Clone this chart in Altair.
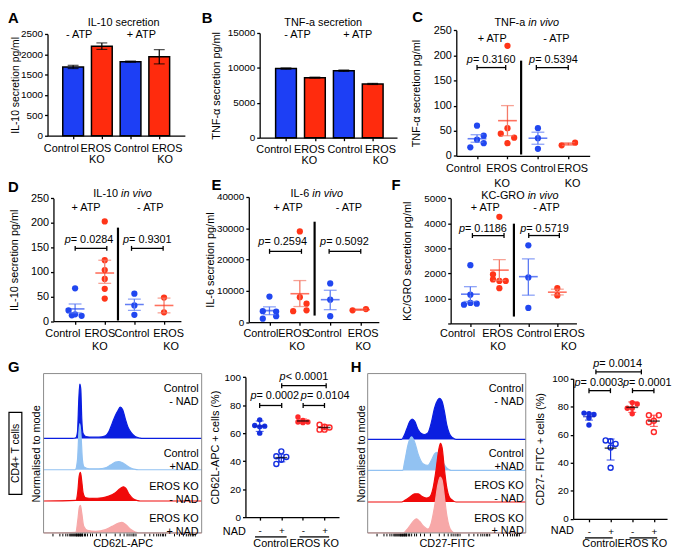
import math
import altair as alt
import pandas as pd

FONT = "Liberation Sans"
W, H = 672, 544

# ---------------- data ----------------
bar_groups = ["Control", "EROS KO", "Control", "EROS KO"]
il10_mean = [1690, 2200, 1820, 1940]
il10_err = [40, 80, 15, 175]
tnf_mean = [9900, 8600, 9600, 7700]
tnf_err = [100, 80, 100, 80]

vivo_groups = ["Control +ATP", "EROS KO +ATP", "Control -ATP", "EROS KO -ATP"]
tnfv_vals = [[60, 40, 32, 25, 17], [219, 55, 44, 36, 25], [55, 35, 14], [21, 26]]
tnfv_slot = [[0, 1, 0, 1, -1], [0, 0, -1, 1, 0], [0, 0, 0], [-1, 1]]
tnfv_mean = [34, 70, 35, 23.5]
tnfv_lo = [27, 40, 23, 21]
tnfv_hi = [42, 100, 47, 26]

il10v_vals = [[67, 22, 12, 14, 11], [203, 124, 104, 86, 66, 46], [56, 32, 13], [48, 18]]
il10v_slot = [[0, -1, -0.5, 0, 1], [0, 0, 0, 0, 0, 0], [0, 0, 0], [0, 0]]
il10v_mean = [25, 98, 34, 32]
il10v_lo = [17, 77, 22, 17]
il10v_hi = [35, 124, 45, 47]

il6v_vals = [[8200, 3500, 3400, 1900, 1100], [29000, 8000, 5900, 3800, 3500], [12400, 7200, 1900], [3800, 4200]]
il6v_slot = [[0, -1, 1, 1, -1], [0, 0, 1, 1, -1], [0, 0, 0], [-1.2, 0.8]]
il6v_mean = [3700, 9100, 7200, 4000]
il6v_lo = [2400, 5000, 4000, 3800]
il6v_hi = [4900, 13300, 10200, 4200]

kcv_vals = [[2330, 1150, 750, 820, 790], [4260, 1960, 1760, 1700, 1700, 1410], [3120, 1840, 620], [1410, 1120]]
kcv_slot = [[0, 0, -1, 0, 1], [0, -1, -1, 0, 1, 0], [0, 0, 0], [0, 0]]
kcv_mean = [1170, 2130, 1870, 1250]
kcv_lo = [880, 1720, 1130, 1140]
kcv_hi = [1470, 2550, 2580, 1370]

nad_groups = ["Control -NAD", "Control +NAD", "EROS KO -NAD", "EROS KO +NAD"]
cd62_vals = [[69.5, 65.5, 65, 64.5, 60], [47, 43.5, 43, 41, 38], [71.5, 69, 68, 68, 67.5], [66, 64.5, 64, 62.5, 62.5]]
cd62_slot = [[0, -1, 1, 0, 0], [0, -1, 1, 0, -1], [-1, 0, -1, 1, 0], [-1, 0, 1, -1, 0]]
cd62_mean = [65, 42.5, 68.7, 64]
cd62_lo = [61.2, 39.5, 67.1, 62.4]
cd62_hi = [68.7, 44.7, 70.1, 65.9]

cd27_vals = [[75.5, 75, 74.5, 72, 67], [56, 55.5, 53.5, 51, 36.5], [83, 82, 79, 79, 75], [74, 74, 70, 69, 62]]
cd27_slot = [[-1, 0, 1, 0, 0], [-1, 0, 1, 0, 0], [0, 1, -1, 0, 0], [-1, 1, 0, -1, 0]]
cd27_mean = [73, 50.5, 79.6, 69.8]
cd27_lo = [70.5, 42, 76, 66]
cd27_hi = [75.5, 57, 83.5, 74]

hist_rows = [["Control", "- NAD"], ["Control", "+NAD"], ["EROS KO", "- NAD"], ["EROS KO", "+ NAD"]]
cd62l_x = [
    [0, 88, 98, 103, 107, 110, 113, 116, 120, 128, 148, 168, 188, 198, 208, 218, 226, 233, 240, 248, 256, 266, 278, 293, 303, 480],
    [0, 96, 103, 107, 110, 114, 118, 123, 138, 168, 188, 203, 218, 228, 238, 250, 263, 278, 288, 480],
    [0, 98, 104, 108, 112, 116, 120, 128, 148, 178, 198, 218, 233, 243, 250, 260, 273, 286, 293, 480],
    [0, 98, 104, 109, 112, 116, 122, 133, 158, 188, 208, 228, 238, 250, 263, 278, 288, 480],
]
cd62l_h = [
    [0, 0, 2, 20, 120, 165, 150, 60, 15, 6, 4, 4, 8, 20, 45, 70, 85, 95, 88, 60, 35, 18, 6, 1, 0, 0],
    [0, 0, 30, 110, 140, 100, 30, 8, 3, 3, 6, 14, 23, 25, 22, 14, 6, 1, 0, 0],
    [0, 2, 30, 75, 87, 60, 25, 10, 8, 10, 15, 25, 38, 43, 38, 20, 6, 1, 0, 0],
    [0, 2, 40, 80, 84, 60, 20, 8, 5, 10, 20, 30, 32, 25, 12, 3, 0, 0],
]
cd27f_x = [
    [0, 103, 110, 118, 128, 135, 143, 153, 163, 173, 183, 193, 203, 213, 218, 226, 233, 240, 248, 258, 268, 480],
    [0, 106, 113, 123, 133, 143, 153, 168, 183, 193, 203, 210, 218, 228, 238, 248, 253, 480],
    [0, 103, 113, 128, 143, 153, 163, 178, 188, 198, 208, 216, 221, 226, 233, 240, 248, 258, 268, 480],
    [0, 108, 123, 138, 148, 158, 168, 183, 193, 203, 213, 220, 226, 233, 240, 248, 256, 263, 480],
]
cd27f_h = [
    [0, 0, 10, 30, 55, 62, 55, 30, 18, 15, 20, 50, 95, 120, 125, 115, 85, 45, 18, 5, 0, 0],
    [0, 0, 30, 80, 102, 85, 50, 20, 15, 30, 50, 55, 45, 25, 10, 2, 0, 0],
    [0, 0, 5, 15, 25, 25, 18, 12, 15, 40, 100, 160, 178, 165, 100, 45, 15, 5, 0, 0],
    [0, 0, 15, 35, 43, 35, 22, 12, 30, 80, 145, 170, 160, 110, 55, 18, 5, 0, 0],
]

# ---------------- styles ----------------
BLUE_BAR, RED_BAR = "#1d3ff5", "#ff2b0d"
BLUE, RED = "#2147f0", "#ff3519"
BLUE_ERR, RED_ERR = "#5b7af3", "#f47a68"
NBLUE, NRED = "#1530e0", "#ff2a2a"
HIST_COL = ["#0a1ee0", "#92c2f2", "#f00a0a", "#f7a8a8"]
G_OFFS = [287, 192, 97, 0]
H_OFFS = [284, 190, 94, 0]

DUMMY = pd.DataFrame({"k": [0]})
CW = {' ': .278, '-': .333, '.': .278, '=': .584, '<': .584, '/': .278, 'a': .556, 'c': .5,
      'e': .556, 'g': .556, 'i': .222, 'l': .222, 'm': .833, 'n': .556, 'o': .556, 'p': .556,
      'r': .333, 's': .5, 't': .278, 'v': .5, 'A': .667, 'C': .722, 'E': .667, 'F': .611,
      'G': .778, 'I': .278, 'K': .667, 'L': .556, 'N': .722, 'O': .778, 'R': .722, 'S': .667, 'T': .611}


def tw(s, size=11):
    return sum(CW.get(c, .556) for c in s) * size


def px(x):
    return x - 8


def py(y):
    return y - 8


def lin(dom, a, b):
    return alt.Scale(domain=dom, range=[a, b], zero=False, nice=False)


def cond(a, b, test="datum.ko"):
    return alt.condition(test, alt.value(a), alt.value(b))


def txt(t, x, y, size=11, align="center", angle=0, weight="normal", style="normal", lh=None):
    kw = dict(text=t, align=align, baseline="middle", fontSize=size, font=FONT, angle=angle,
              fontWeight=weight, fontStyle=style, color="black")
    if lh:
        kw["lineHeight"] = lh
    return alt.Chart(DUMMY).mark_text(**kw).encode(x=alt.value(px(x)), y=alt.value(py(y)))


def seg(x0, y0, x1, y1, color="black", w=1.3):
    return alt.Chart(DUMMY).mark_rule(color=color, strokeWidth=w).encode(
        x=alt.value(px(x0)), y=alt.value(py(y0)), x2=alt.value(px(x1)), y2=alt.value(py(y1)))


def bracket(x0, x1, y):
    return [seg(x0, y, x1, y), seg(x0, y - 2.5, x0, y + 2.5), seg(x1, y - 2.5, x1, y + 2.5)]


def ptext(cx, y, rest):
    total = tw("p") + tw(rest)
    left = cx - total / 2
    return [txt("p", left, y, align="left", style="italic"), txt(rest, left + tw("p"), y, align="left")]


def vivo_title(a, cx, y):
    b = "in vivo"
    total = tw(a) + tw(b)
    left = cx - total / 2
    return [txt(a, left, y, align="left"), txt(b, left + tw(a), y, align="left", style="italic")]


def letter(t, x, y):
    return txt(t, x, y, size=15, weight="bold", align="left")


def cat_labels(centers, y1, y2):
    """Category names under an axis: Control / EROS KO (two lines)."""
    out = []
    for i, c in enumerate(centers):
        if i % 2 == 0:
            out.append(txt("Control", c[0], y1))
        else:
            out.append(txt("EROS", c[0], y1))
            out.append(txt("KO", c[1], y2))
    return out


LBLNAD = "datum.value == 1 || datum.value == 3 ? '-' : '+'"


def xaxis(ax_y, expr=None, pad=5, size=10):
    kw = dict(orient="bottom", offset=py(ax_y) - H, values=[1, 2, 3, 4], title=None,
              tickSize=3, labelPadding=pad, labelFontSize=size,
              labelOverlap=False, labelFlush=False, grid=False)
    if expr:
        kw["labelExpr"] = expr
    else:
        kw["labels"] = False
    return alt.Axis(**kw)


def yaxis(ax_x, vals, title, size=10, tpad=2, expr=None, tsize=11):
    kw = dict(orient="left", offset=-px(ax_x), values=vals, title=title, tickSize=3, labelPadding=2,
              labelFontSize=size, titleFontSize=tsize, titlePadding=tpad, format="d",
              labelOverlap=False, labelFlush=False, grid=False)
    if expr:
        kw["labelExpr"] = expr
    return alt.Axis(**kw)


def bar_panel(means, errs, xsc, xax, ysc, yax):
    df = pd.DataFrame({"pos": list(range(1, len(means) + 1)), "mean": means, "err": errs,
                       "ko": [g.startswith("EROS") for g in bar_groups]})
    base = alt.Chart(df).transform_calculate(lo="datum.mean - datum.err", hi="datum.mean + datum.err")
    X = alt.X("pos:Q", scale=xsc, axis=xax)
    bars = base.mark_bar(size=21, stroke="black", strokeWidth=1.5).encode(
        x=X, y=alt.Y("mean:Q", scale=ysc, axis=yax), y2=alt.datum(0), fill=cond(RED_BAR, BLUE_BAR))
    err = base.mark_rule(color="black", strokeWidth=1.2).encode(
        x=X, y=alt.Y("lo:Q", scale=ysc, axis=yax), y2="hi:Q")
    caps = [base.mark_tick(orient="horizontal", size=11, thickness=1.2, color="black").encode(
        x=X, y=alt.Y(f + ":Q", scale=ysc, axis=yax)) for f in ("lo", "hi")]
    return alt.layer(bars, err, *caps)


def points_df(groups, vals, slots):
    rows = []
    for gi, (vs, ss) in enumerate(zip(vals, slots)):
        for v, s in zip(vs, ss):
            rows.append({"pos": gi + 1, "val": v, "slot": s,
                         "ko": groups[gi].startswith("EROS"), "plus": "+" in groups[gi]})
    return pd.DataFrame(rows)


def summ_df(groups, mean, lo, hi):
    return pd.DataFrame({"pos": [1, 2, 3, 4], "mean": mean, "lo": lo, "hi": hi,
                         "ko": [g.startswith("EROS") for g in groups]})


def vivo_panel(vals, slots, mean, lo, hi, xsc, xax, ysc, yax, jit=0.22):
    pts = points_df(vivo_groups, vals, slots)
    sm = summ_df(vivo_groups, mean, lo, hi)
    X = alt.X("pos:Q", scale=xsc, axis=xax)
    p = alt.Chart(pts).transform_calculate(xj=f"datum.pos + datum.slot * {jit}").mark_circle(
        size=40, opacity=1).encode(x=alt.X("xj:Q", scale=xsc, axis=xax),
                                   y=alt.Y("val:Q", scale=ysc, axis=yax), color=cond(RED, BLUE))
    sb = alt.Chart(sm)
    err = sb.mark_rule(strokeWidth=1.3).encode(x=X, y=alt.Y("lo:Q", scale=ysc, axis=yax), y2="hi:Q",
                                               color=cond(RED_ERR, BLUE_ERR))
    caps = [sb.mark_tick(orient="horizontal", size=13, thickness=1.3).encode(
        x=X, y=alt.Y(f + ":Q", scale=ysc, axis=yax), color=cond(RED_ERR, BLUE_ERR)) for f in ("lo", "hi")]
    ml = sb.mark_tick(orient="horizontal", size=19, thickness=1.6).encode(
        x=X, y=alt.Y("mean:Q", scale=ysc, axis=yax), color=cond(RED, BLUE))
    return alt.layer(p, err, *caps, ml)


def nad_panel(vals, slots, mean, lo, hi, xsc, xax, ysc, yax, jit=0.23):
    pts = points_df(nad_groups, vals, slots)
    sm = summ_df(nad_groups, mean, lo, hi)
    X = alt.X("pos:Q", scale=xsc, axis=xax)
    base = alt.Chart(pts).transform_calculate(xj=f"datum.pos + datum.slot * {jit}")
    enc = dict(x=alt.X("xj:Q", scale=xsc, axis=xax), y=alt.Y("val:Q", scale=ysc, axis=yax),
               color=cond(NRED, NBLUE))
    filled = base.transform_filter("!datum.plus").mark_circle(size=30, opacity=1).encode(**enc)
    hollow = base.transform_filter("datum.plus").mark_point(shape="circle", size=26, filled=False,
                                                            strokeWidth=1.4, opacity=1).encode(**enc)
    sb = alt.Chart(sm)
    err = sb.mark_rule(strokeWidth=1.2).encode(x=X, y=alt.Y("lo:Q", scale=ysc, axis=yax), y2="hi:Q",
                                               color=cond(NRED, NBLUE))
    caps = [sb.mark_tick(orient="horizontal", size=8, thickness=1.2).encode(
        x=X, y=alt.Y(f + ":Q", scale=ysc, axis=yax), color=cond(NRED, NBLUE)) for f in ("lo", "hi")]
    ml = sb.mark_tick(orient="horizontal", size=12, thickness=1.5).encode(
        x=X, y=alt.Y("mean:Q", scale=ysc, axis=yax), color=cond("#1020c0", "black", "datum.pos == 1"))
    return alt.layer(filled, hollow, err, *caps, ml)


def flow_ticks():
    t = [40, 60, 70, 78, 84, 89, 93, 97, 100, 103, 106, 108, 110, 112, 114, 116, 118, 120, 122, 124,
         126, 128, 130, 134, 139, 145, 152, 160, 170, 182]
    for start in (200, 290, 380):
        for k in range(1, 10):
            t.append(start + 90 * math.log10(k))
    t.append(470)
    return [v - 12 for v in t]


def hist_panel(xs_list, hs_list, offs, xsc, ysc, title):
    xax = alt.Axis(orient="bottom", offset=py(536) - H, values=flow_ticks(), labels=False, domain=False,
                   tickSize=3, tickWidth=1, title=title, titleFontSize=11, titlePadding=1, grid=False)
    layers = []
    for xs, hs, off, col in zip(xs_list, hs_list, offs, HIST_COL):
        df = pd.DataFrame({"x": xs, "h": hs})
        layers.append(alt.Chart(df).transform_calculate(top=f"datum.h + {off}", bot=f"{off}").mark_area(
            color=col, interpolate="monotone", opacity=1, line={"color": col, "strokeWidth": 1.2}).encode(
            x=alt.X("x:Q", scale=xsc, axis=xax), y=alt.Y("top:Q", scale=ysc, axis=None), y2="bot:Q"))
    return alt.layer(*layers)


def box(x0, y0, x1, y1, color="#8a8a8a", w=1):
    return alt.Chart(DUMMY).mark_rect(filled=False, stroke=color, strokeWidth=w).encode(
        x=alt.value(px(x0)), x2=alt.value(px(x1)), y=alt.value(py(y0)), y2=alt.value(py(y1)))


# ---------------- panels ----------------
panels = []
ann = []

# A
panels.append(bar_panel(il10_mean, il10_err,
                        lin([0.28, 4.72], px(48), px(187)), xaxis(134),
                        lin([0, 2500], py(134), py(31)),
                        yaxis(48, [0, 500, 1000, 1500, 2000, 2500], "IL-10 secretion pg/ml", size=10, tpad=0,
                              tsize=10.5)))
ann += [letter("A", 8, 15), txt("IL-10 secretion", 125, 20),
        txt("- ATP", 80, 32), txt("+ ATP", 143, 32)]
ann += cat_labels([(62, 0), (97, 98), (133, 0), (169, 167)], 147, 159)

# B
panels.append(bar_panel(tnf_mean, tnf_err,
                        lin([0.26, 4.67], px(262.7), px(401.7)), xaxis(136),
                        lin([0, 15000], py(136), py(30)),
                        yaxis(262.7, [0, 5000, 10000, 15000], "TNF-α secretion pg/ml", size=10, tpad=6)))
ann += [letter("B", 204, 15), txt("TNF-a secretion", 327, 20),
        txt("- ATP", 301, 32), txt("+ ATP", 362, 32)]
ann += cat_labels([(277, 0), (313, 313), (349, 0), (385, 385)], 148, 160)

# C
panels.append(vivo_panel(tnfv_vals, tnfv_slot, tnfv_mean, tnfv_lo, tnfv_hi,
                         lin([0.32, 4.70], px(461.7), px(596.7)), xaxis(154.3),
                         lin([0, 250], py(154.3), py(27.3)),
                         yaxis(461.7, [0, 50, 100, 150, 200, 250], "TNF-α secretion pg/ml", size=11, tpad=12)))
ann += [letter("C", 417, 14)] + vivo_title("TNF-a ", 533, 20)
ann += [txt("+ ATP", 498, 36), txt("- ATP", 563, 36), seg(527.3, 58, 527.3, 153, w=2.2)]
ann += ptext(497, 57, "= 0.3160") + ptext(560, 57, "= 0.5394") + bracket(482.7, 511.7, 65) + bracket(542.7, 575, 65)
ann += cat_labels([(469, 0), (507.5, 508), (544.5, 0), (579.5, 579.5)], 168, 183)

# D
panels.append(vivo_panel(il10v_vals, il10v_slot, il10v_mean, il10v_lo, il10v_hi,
                         lin([0.27, 4.57], px(54), px(183)), xaxis(321.7),
                         lin([0, 250], py(321.7), py(197.3)),
                         yaxis(54, [0, 50, 100, 150, 200, 250], "IL-10 secretion pg/ml", size=11, tpad=11)))
ann += [letter("D", 8, 186)] + vivo_title("IL-10 ", 124, 193)
ann += [txt("+ ATP", 87, 207), txt("- ATP", 152, 207), seg(119.3, 227, 119.3, 321, w=2.2)]
ann += ptext(90, 240, "= 0.0284") + ptext(149, 240, "= 0.9301") + bracket(76, 108, 248) + bracket(133, 165, 248)
ann += cat_labels([(63.5, 0), (101, 101), (133.5, 0), (170.5, 173)], 335, 348)

# E
panels.append(vivo_panel(il6v_vals, il6v_slot, il6v_mean, il6v_lo, il6v_hi,
                         lin([0.32, 4.60], px(251.7), px(383.3)), xaxis(322.7),
                         lin([0, 40000], py(322.7), py(196)),
                         yaxis(251.7, [0, 10000, 20000, 30000, 40000], "IL-6 secretion pg/ml", size=10, tpad=1)))
ann += [letter("E", 214, 184)] + vivo_title("IL-6 ", 320.5, 193)
ann += [txt("+ ATP", 291.5, 207), txt("- ATP", 353, 207), seg(318.3, 221, 318.3, 316, w=2.2)]
ann += ptext(286, 242, "= 0.2594") + ptext(348.5, 242, "= 0.5092") + bracket(272.7, 305, 251) + bracket(333, 365, 251)
ann += cat_labels([(264, 0), (297, 300.5), (328, 0), (367.5, 367.5)], 335, 348)

# F
panels.append(vivo_panel(kcv_vals, kcv_slot, kcv_mean, kcv_lo, kcv_hi,
                         lin([0.32, 4.66], px(456), px(583.3)), xaxis(324),
                         lin([0, 5000], py(324), py(197.3)),
                         yaxis(456, [0, 1000, 2000, 3000, 4000, 5000], "KC/GRO secretion pg/ml", size=10,
                               tpad=11, expr="datum.value == 0 ? '' : datum.label")))
ann += [letter("F", 396, 184)] + vivo_title("KC-GRO ", 526, 195)
ann += [txt("+ ATP", 491, 207), txt("- ATP", 553, 207), seg(520, 223, 520, 317, w=2.2)]
ann += ptext(489, 228, "= 0.1186") + ptext(551, 228, "= 0.5719") + bracket(478, 510, 235) + bracket(535, 566, 235)
ann += cat_labels([(463, 0), (503.5, 504), (540.5, 0), (576, 575.5)], 335, 348)

# G histogram
panels.append(hist_panel(cd62l_x, cd62l_h, G_OFFS, lin([0, 480], px(44), px(204)),
                         lin([0, 484], py(536), py(374.7)), "CD62L-APC"))
ann += [box(44, 374.7, 204, 536), letter("G", 8, 368),
        box(9, 414, 22, 497, color="black", w=1.2), txt("CD4+ T cells", 16, 455.5, size=10.5, angle=270),
        txt("Normalised to mode", 37, 456, angle=270)]
for lab, yc in zip(hist_rows, [390.5, 456.5, 489.5, 522]):
    ann.append(txt(lab, 201, yc, align="right", lh=13))

# G dot plot
panels.append(nad_panel(cd62_vals, cd62_slot, cd62_mean, cd62_lo, cd62_hi,
                        lin([0.34, 4.67], px(248.3), px(343)), xaxis(520, LBLNAD, pad=6, size=10),
                        lin([0, 100], py(520), py(378.3)),
                        yaxis(248.3, [0, 20, 40, 60, 80, 100], "CD62L-APC + cells (%)", size=10, tpad=4)))
ann += [txt("NAD", 237, 535)] + [seg(258, 540, 290, 540), seg(303, 540, 333, 540)]
ann += [txt("Control", 274, 547), txt("EROS KO", 318, 547)]
ann += ptext(278, 397, "= 0.0002") + ptext(329, 397, "= 0.0104") + ptext(307.5, 378, "< 0.0001")
ann += bracket(262.7, 285, 407) + bracket(306.7, 328.3, 407) + bracket(285, 330, 387)

# H histogram
panels.append(hist_panel(cd27f_x, cd27f_h, H_OFFS, lin([0, 480], px(372), px(532)),
                         lin([0, 484], py(536), py(374.7)), "CD27-FITC"))
ann += [box(372, 374.7, 532, 536), letter("H", 355, 368),
        txt("Normalised to mode", 366, 456, angle=270)]
for lab, yc in zip(hist_rows, [390.5, 456, 489, 521.5]):
    ann.append(txt(lab, 530, yc, align="right", lh=13))

# H dot plot
panels.append(nad_panel(cd27_vals, cd27_slot, cd27_mean, cd27_lo, cd27_hi,
                        lin([0.27, 4.61], px(580), px(675)), xaxis(521.7, LBLNAD, pad=5, size=10),
                        lin([0, 100], py(521.7), py(380)),
                        yaxis(580, [0, 20, 40, 60, 80, 100], "CD27- FITC + cells (%)", size=10, tpad=6)))
ann += [txt("NAD", 569, 534)] + [seg(592, 541, 620, 541), seg(637, 541, 665, 541)]
ann += [txt("Control", 607, 547), txt("EROS KO", 650, 547)]
ann += ptext(606, 384, "= 0.0003") + ptext(655, 384, "= 0.0001") + ptext(625, 365, "= 0.0014")
ann += bracket(596, 617.7, 392) + bracket(640, 661.7, 392) + bracket(603, 649, 373)

chart = alt.layer(*panels, *ann).resolve_scale(x="independent", y="independent").resolve_axis(
    x="independent", y="independent").properties(
    width=W, height=H, autosize=alt.AutoSizeParams(type="none"), padding=0
).configure_axis(
    labelFont=FONT, titleFont=FONT, labelColor="black", titleColor="black", domainColor="black",
    tickColor="black", grid=False, titleFontWeight="normal", domainWidth=1.3, tickWidth=1.3
).configure_view(stroke=None).configure_text(font=FONT)

chart.save("out.html", embed_options={"renderer": "svg", "actions": False})
